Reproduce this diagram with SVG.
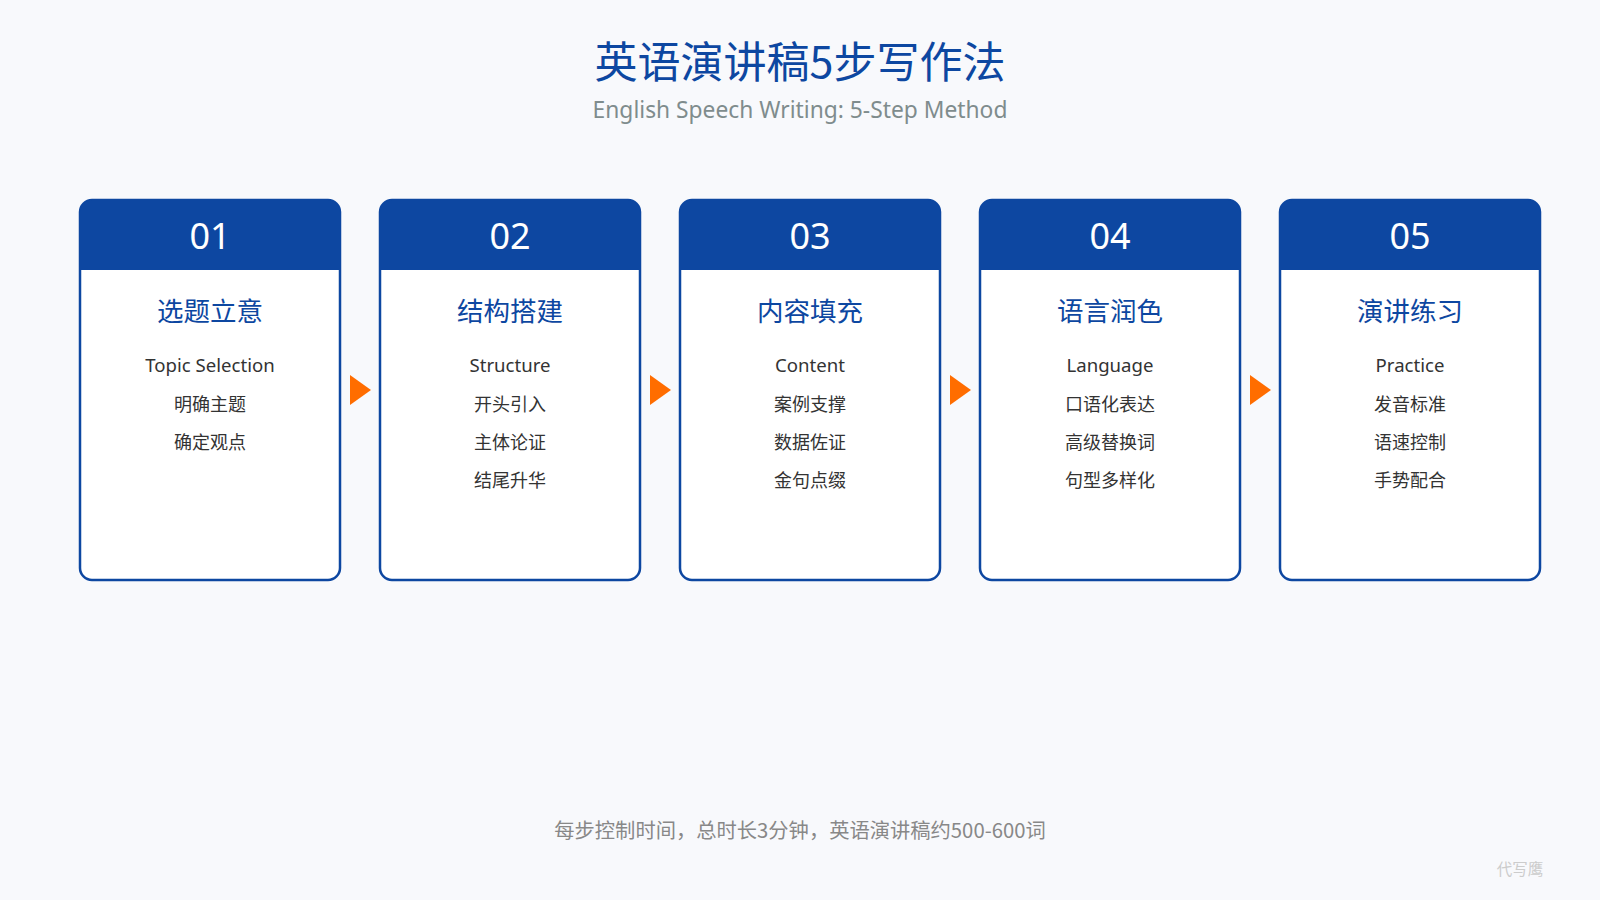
<svg xmlns="http://www.w3.org/2000/svg" width="1600" height="900" viewBox="0 0 1600 900">
<style>
text{font-family:"Noto Sans","Noto Sans CJK SC",sans-serif;text-anchor:middle}
.title{font-family:"Noto Sans CJK SC",sans-serif;font-size:43px;fill:#0d47a1;font-weight:400}
.sub{font-size:22.8px;fill:#7f8c8d}
.card{fill:#ffffff;stroke:#0d47a1;stroke-width:2.5}
.head{fill:#0d47a1}
.num{font-size:36px;fill:#ffffff}
.name{font-family:"Noto Sans CJK SC",sans-serif;font-size:26.5px;fill:#0d47a1}
.en{font-size:18.6px;fill:#333333}
.item{font-family:"Noto Sans CJK SC",sans-serif;font-size:18px;fill:#333333}
.arrow{fill:#ff6d00}
.foot{font-family:"Noto Sans CJK SC",sans-serif;font-size:20.3px;fill:#888888}
.wm{font-family:"Noto Sans CJK SC",sans-serif;font-size:15.5px;fill:#cccccc}
</style>
<defs>
<clipPath id="c"><rect x="0" y="0" width="260" height="380" rx="12"/></clipPath>
</defs>
<rect width="1600" height="900" fill="#f8f9fc"/>
<g id="title">
<text class="title" x="800" y="78">英语演讲稿5步写作法</text>
<text class="sub" x="800" y="118">English Speech Writing: 5-Step Method</text>
</g>
<g id="step1" transform="translate(80,200)">
<rect class="card" width="260" height="380" rx="12"/>
<g clip-path="url(#c)"><rect class="head" width="260" height="70"/></g>
<text class="num" x="130" y="49">01</text>
<text class="name" x="130" y="121">选题立意</text>
<text class="en" x="130" y="172">Topic Selection</text>
<text class="item" x="130" y="211">明确主题</text>
<text class="item" x="130" y="249">确定观点</text>
</g>
<g id="step2" transform="translate(380,200)">
<rect class="card" width="260" height="380" rx="12"/>
<g clip-path="url(#c)"><rect class="head" width="260" height="70"/></g>
<text class="num" x="130" y="49">02</text>
<text class="name" x="130" y="121">结构搭建</text>
<text class="en" x="130" y="172">Structure</text>
<text class="item" x="130" y="211">开头引入</text>
<text class="item" x="130" y="249">主体论证</text>
<text class="item" x="130" y="287">结尾升华</text>
</g>
<g id="step3" transform="translate(680,200)">
<rect class="card" width="260" height="380" rx="12"/>
<g clip-path="url(#c)"><rect class="head" width="260" height="70"/></g>
<text class="num" x="130" y="49">03</text>
<text class="name" x="130" y="121">内容填充</text>
<text class="en" x="130" y="172">Content</text>
<text class="item" x="130" y="211">案例支撑</text>
<text class="item" x="130" y="249">数据佐证</text>
<text class="item" x="130" y="287">金句点缀</text>
</g>
<g id="step4" transform="translate(980,200)">
<rect class="card" width="260" height="380" rx="12"/>
<g clip-path="url(#c)"><rect class="head" width="260" height="70"/></g>
<text class="num" x="130" y="49">04</text>
<text class="name" x="130" y="121">语言润色</text>
<text class="en" x="130" y="172">Language</text>
<text class="item" x="130" y="211">口语化表达</text>
<text class="item" x="130" y="249">高级替换词</text>
<text class="item" x="130" y="287">句型多样化</text>
</g>
<g id="step5" transform="translate(1280,200)">
<rect class="card" width="260" height="380" rx="12"/>
<g clip-path="url(#c)"><rect class="head" width="260" height="70"/></g>
<text class="num" x="130" y="49">05</text>
<text class="name" x="130" y="121">演讲练习</text>
<text class="en" x="130" y="172">Practice</text>
<text class="item" x="130" y="211">发音标准</text>
<text class="item" x="130" y="249">语速控制</text>
<text class="item" x="130" y="287">手势配合</text>
</g>
<g id="connectors">
<polygon class="arrow" points="350,375 371,390 350,405"/>
<polygon class="arrow" points="650,375 671,390 650,405"/>
<polygon class="arrow" points="950,375 971,390 950,405"/>
<polygon class="arrow" points="1250,375 1271,390 1250,405"/>
</g>
<g id="footer">
<text class="foot" x="800" y="838">每步控制时间，总时长3分钟，英语演讲稿约500-600词</text>
<text class="wm" x="1520" y="875">代写鹰</text>
</g>
</svg>
